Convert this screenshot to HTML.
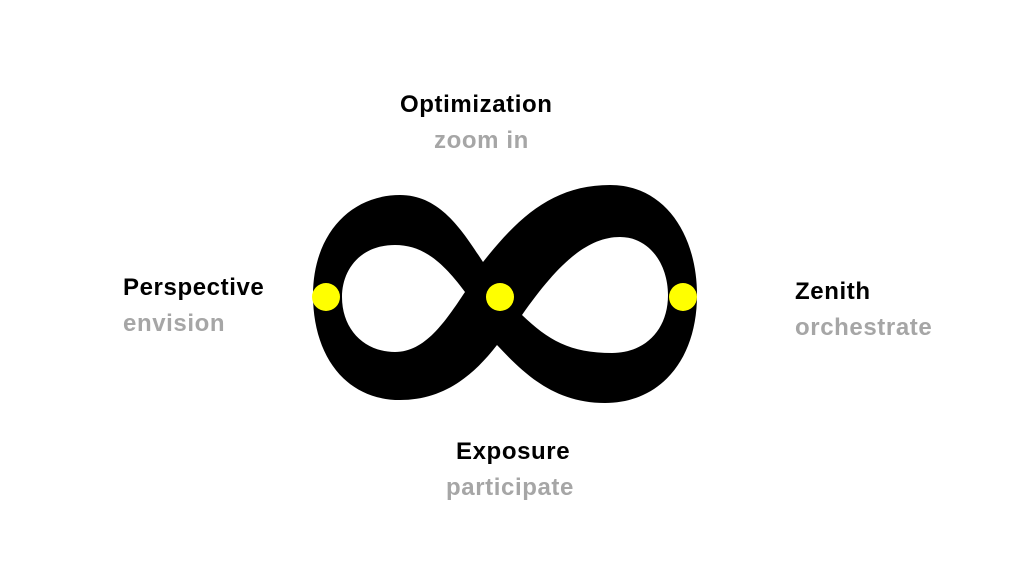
<!DOCTYPE html>
<html><head><meta charset="utf-8"><style>
html,body{margin:0;padding:0;background:#fff;}
body{width:1024px;height:576px;position:relative;overflow:hidden;font-family:"Liberation Sans",sans-serif;font-weight:bold;}
.t{position:absolute;font-size:24px;line-height:28px;white-space:nowrap;letter-spacing:0.6px;}
.b{color:#000}.g{color:#a6a6a6}
</style></head><body>
<svg width="1024" height="576" style="position:absolute;left:0;top:0">
<path fill="#000" fill-rule="evenodd" d="M483,262 C520,215 555,185 610,185 C665,185 697,235 697,295 C697,360 660,403 605,403 C555,403 525,375 497,345 C470,380 440,400 400,400 C345,400 313,355 313,295 C313,235 350,195 400,195 C440,195 462,230 483,262 Z
M465,292 C440,258 420,245 395,245 C360,245 342,270 342,297 C342,330 365,352 395,352 C425,352 445,322 465,292 Z
M522,315 C555,268 585,237 620,237 C650,237 668,265 668,295 C668,330 645,353 612,353 C570,353 548,340 522,315 Z"/>
<circle cx="326" cy="297" r="14" fill="#ffff00"/>
<circle cx="500" cy="297" r="14" fill="#ffff00"/>
<circle cx="683" cy="297" r="14" fill="#ffff00"/>
</svg>
<div class="t b" style="left:400px;top:91px">Optimization</div>
<div class="t g" style="left:434px;top:127px">zoom in</div>
<div class="t b" style="left:123px;top:274px">Perspective</div>
<div class="t g" style="left:123px;top:310px">envision</div>
<div class="t b" style="left:795px;top:278px">Zenith</div>
<div class="t g" style="left:795px;top:314px">orchestrate</div>
<div class="t b" style="left:456px;top:438px">Exposure</div>
<div class="t g" style="left:446px;top:474px">participate</div>
</body></html>
